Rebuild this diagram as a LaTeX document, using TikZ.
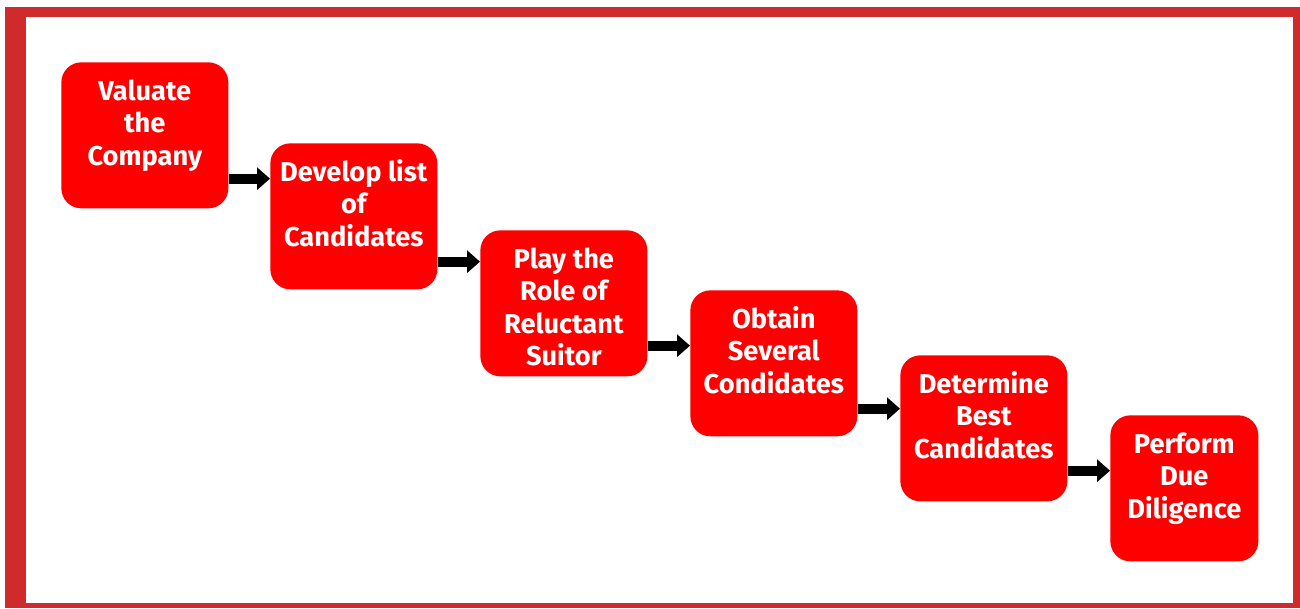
\documentclass[tikz,border=0pt]{standalone}
\usepackage{fontspec}
\setmainfont{Fira Sans}
\usetikzlibrary{arrows.meta,positioning}
\definecolor{framered}{RGB}{208,42,45}
\definecolor{boxred}{RGB}{255,0,0}
\newcommand{\stagetext}[2][3.34cm]{\parbox[c][2.92cm][t]{#1}{\centering\vspace*{8.5pt}\strut #2}}

\begin{document}
\begin{tikzpicture}[x=0.02cm, y=-0.02cm,
  stage/.style={fill=boxred, rounded corners=0.4cm, inner sep=0pt, anchor=north west,
    text=white, font=\fontsize{15.5}{18.5}\selectfont\bfseries},
  flow/.style={-{Triangle[length=0.26cm, width=0.44cm]}, line width=0.2cm}]
  \useasboundingbox (0,0) rectangle (1300,608);
  \fill[framered] (5,7) rectangle (1300,608);
  \fill[white] (26,17) rectangle (1293,603);

  \node[stage] (valuate) at (61,62) {\stagetext{Valuate\\the\\Company}};
  \node[stage] (develop) at (270,143) {\stagetext{Develop list\\of\\Candidates}};
  \node[stage] (suitor) at (480,230) {\stagetext{Play the\\Role of\\Reluctant\\Suitor}};
  \node[stage] (obtain) at (690,290) {\stagetext{Obtain\\Several\\Condidates}};
  \node[stage] (best) at (900,355) {\stagetext{Determine\\Best\\Candidates}};
  \node[stage] (diligence) at (1110,415) {\stagetext[2.96cm]{Perform\\Due\\Diligence}};

  \draw[flow] ([yshift=0.6cm]valuate.south east) coordinate (a1) -- (a1 -| develop.west);
  \draw[flow] ([yshift=0.56cm]develop.south east) coordinate (a2) -- (a2 -| suitor.west);
  \draw[flow] ([yshift=0.62cm]suitor.south east) coordinate (a3) -- (a3 -| obtain.west);
  \draw[flow] ([yshift=0.56cm]obtain.south east) coordinate (a4) -- (a4 -| best.west);
  \draw[flow] ([yshift=0.62cm]best.south east) coordinate (a5) -- (a5 -| diligence.west);
\end{tikzpicture}
\end{document}
